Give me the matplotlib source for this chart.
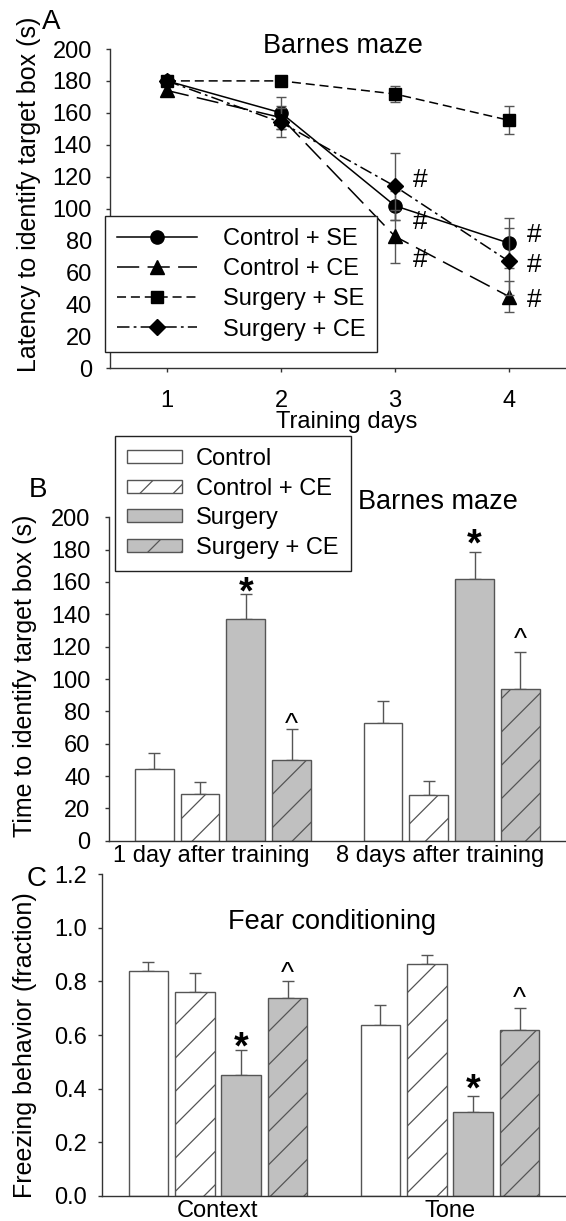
import matplotlib
matplotlib.use("Agg")
import matplotlib.pyplot as plt
import matplotlib.transforms as mtransforms
from matplotlib.patches import Patch
import numpy as np

plt.rcParams['font.family'] = ['Liberation Sans', 'DejaVu Sans']
plt.rcParams['font.size'] = 17
plt.rcParams['lines.scale_dashes'] = False
plt.rcParams['hatch.linewidth'] = 0.9

# ---- Panel A data: Barnes maze training ----
days = [1, 2, 3, 4]
ctrl_se = [180, 160, 101.7, 78.3]
ctrl_se_err = [1.5, 10, 9, 15.7]
ctrl_ce = [174, 157, 82.5, 44.8]
ctrl_ce_err = [3, 7, 16.4, 9.5]
surg_se = [180, 180, 171.8, 155.3]
surg_se_err = [0, 0, 5, 8.7]
surg_ce = [180, 154, 113.9, 66.8]
surg_ce_err = [1.5, 9, 21, 21]
# "#" marks (day, y)
hash_days = [3, 3, 3, 4, 4, 4]
hash_y = [117.9, 91.5, 67.7, 83.4, 64.6, 42.6]

# ---- Panel B data: Barnes maze memory ----
b_groups = ['1 day after training', '8 days after training']
b_control = [44.3, 73.0]
b_control_err = [9.7, 13.4]
b_control_ce = [29.1, 28.4]
b_control_ce_err = [7.4, 8.5]
b_surgery = [136.9, 162.0]
b_surgery_err = [15.6, 16.7]
b_surgery_ce = [49.9, 93.6]
b_surgery_ce_err = [19.0, 23.3]
b_star_y = [159.4, 189.0]
b_caret_y = [75.9, 128.4]

# ---- Panel C data: fear conditioning ----
c_groups = ['Context', 'Tone']
c_control = [0.839, 0.639]
c_control_err = [0.032, 0.072]
c_control_ce = [0.762, 0.864]
c_control_ce_err = [0.068, 0.034]
c_surgery = [0.451, 0.311]
c_surgery_err = [0.093, 0.062]
c_surgery_ce = [0.737, 0.620]
c_surgery_ce_err = [0.065, 0.082]
c_star_y = [0.589, 0.432]
c_caret_y = [0.854, 0.761]

W, H = 566, 1221
fig = plt.figure(figsize=(W / 100, H / 100), dpi=100)


def px_axes(left, top, bottom, right=W):
    return fig.add_axes([left / W, 1 - bottom / H, (right - left) / W, (bottom - top) / H])


def style(ax):
    for s in ['top', 'right']:
        ax.spines[s].set_visible(False)
    for s in ['left', 'bottom']:
        ax.spines[s].set_color('#333333')
        ax.spines[s].set_linewidth(1)
    ax.tick_params(direction='out', length=3, width=1, color='#333333')


edge = '#555555'
gray = '#c0c0c0'
ecol = '#555555'

# ================= Panel A =================
axA = px_axes(110, 49, 368)
style(axA)
series = [
    (ctrl_se, ctrl_se_err, 'o', '-', 9.5, 'Control + SE'),
    (ctrl_ce, ctrl_ce_err, '^', (0, (16, 6)), 9.5, 'Control + CE'),
    (surg_se, surg_se_err, 's', (0, (6.5, 3.5)), 8.5, 'Surgery + SE'),
    (surg_ce, surg_ce_err, 'D', (0, (9, 3, 2, 3)), 8, 'Surgery + CE'),
]
handles = []
for vals, errs, mk, ls, ms, lab in series:
    axA.errorbar(days, vals, yerr=errs, fmt='none', ecolor=ecol, elinewidth=1, capsize=3.5, capthick=1)
    ln, = axA.plot(days, vals, color='black', linestyle=ls, linewidth=1.1,
                   marker=mk, markersize=ms, markerfacecolor='black', markeredgecolor='black', label=lab)
    handles.append(ln)
for d, y in zip(hash_days, hash_y):
    axA.text(d + 0.22, y, '#', ha='center', va='center', fontsize=19)
axA.set_xlim(0.5, 4.5)
axA.set_ylim(0, 200)
axA.set_xticks(days)
axA.set_yticks(np.arange(0, 201, 20))
axA.tick_params(axis='x', pad=13)
axA.tick_params(axis='y', pad=10)
axA.set_xlabel('Training days', labelpad=0)
axA.xaxis.set_label_coords((347 - 110) / 456, -0.135)
axA.set_ylabel('Latency to identify target box (s)', fontsize=18)
axA.yaxis.set_label_coords(-0.151, 0.545)
legA = axA.legend(handles=handles, loc='upper left', bbox_to_anchor=(105 / W, 1 - 216 / H),
                  bbox_transform=fig.transFigure, numpoints=1, handlelength=3.4,
                  handletextpad=1.1, labelspacing=0.35, borderpad=0.5, fancybox=False,
                  framealpha=1, edgecolor='#222222', borderaxespad=0)
legA.get_frame().set_linewidth(1)

# ================= Bar panels =================
offsets = [-0.3, -0.1, 0.1, 0.3]
width = 0.17


def bars(ax, groups, series_list):
    x = np.arange(len(groups))
    for off, (vals, errs, fc, hatch) in zip(offsets, series_list):
        ax.bar(x + off, vals, width, color=fc, edgecolor=edge, linewidth=1, hatch=hatch, zorder=2)
        ax.errorbar(x + off, vals, yerr=[np.zeros(len(vals)), errs], fmt='none', ecolor=ecol,
                    elinewidth=1, capsize=4.5, capthick=1, zorder=1)
    ax.set_xticks(x)
    ax.set_xticklabels(groups)
    ax.tick_params(axis='x', length=0)
    ax.set_xlim(-0.5, 1.5)
    return x


def marks(ax, x, star_y, caret_y):
    for i in range(len(x)):
        ax.annotate('*', (x[i] + 0.1, star_y[i]), xytext=(0, -15), textcoords='offset points',
                    ha='center', va='baseline', fontsize=27, fontweight='bold')
        ax.annotate('^', (x[i] + 0.3, caret_y[i]), xytext=(0, -10), textcoords='offset points',
                    ha='center', va='baseline', fontsize=20)


# ================= Panel B =================
axB = px_axes(108.5, 517.3, 840.7)
style(axB)
xb = bars(axB, b_groups, [
    (b_control, b_control_err, 'white', None),
    (b_control_ce, b_control_ce_err, 'white', '/'),
    (b_surgery, b_surgery_err, gray, None),
    (b_surgery_ce, b_surgery_ce_err, gray, '/'),
])
axB.set_ylim(0, 200)
axB.set_yticks(np.arange(0, 201, 20))
axB.tick_params(axis='y', pad=10)
axB.tick_params(axis='x', pad=3)
shift = mtransforms.ScaledTranslation(-12 / 100, 0, fig.dpi_scale_trans)
for lbl in axB.get_xticklabels():
    lbl.set_transform(lbl.get_transform() + shift)
axB.set_ylabel('Time to identify target box (s)', fontsize=18)
axB.yaxis.set_label_coords(-0.156, 0.51)
marks(axB, xb, b_star_y, b_caret_y)
leg_handles = [
    Patch(facecolor='white', edgecolor=edge, label='Control'),
    Patch(facecolor='white', edgecolor=edge, hatch='/', label='Control + CE'),
    Patch(facecolor=gray, edgecolor=edge, label='Surgery'),
    Patch(facecolor=gray, edgecolor=edge, hatch='/', label='Surgery + CE'),
]
legB = axB.legend(handles=leg_handles, loc='upper left', bbox_to_anchor=(115 / W, 1 - 436 / H),
                  bbox_transform=fig.transFigure, handlelength=2.3, handleheight=0.47,
                  handletextpad=0.6, labelspacing=0.32, borderpad=0.52, fancybox=False,
                  framealpha=1, edgecolor='#222222', borderaxespad=0)
legB.get_frame().set_linewidth(1)

# ================= Panel C =================
axC = px_axes(102, 874.3, 1195.7)
style(axC)
xc = bars(axC, c_groups, [
    (c_control, c_control_err, 'white', None),
    (c_control_ce, c_control_ce_err, 'white', '/'),
    (c_surgery, c_surgery_err, gray, None),
    (c_surgery_ce, c_surgery_ce_err, gray, '/'),
])
axC.set_ylim(0, 1.2)
axC.set_yticks(np.arange(0, 1.21, 0.2))
axC.set_yticklabels([f'{v:.1f}' for v in np.arange(0, 1.21, 0.2)])
axC.tick_params(axis='y', pad=8)
axC.tick_params(axis='x', pad=3)
axC.set_ylabel('Freezing behavior (fraction)', fontsize=18)
axC.yaxis.set_label_coords(-0.140, 0.47)
marks(axC, xc, c_star_y, c_caret_y)

# ---- panel letters and titles ----
fig.text(51 / W, 1 - 22 / H, 'A', ha='center', va='center', fontsize=20)
fig.text(343 / W, 1 - 46 / H, 'Barnes maze', ha='center', va='center', fontsize=19.5)
fig.text(38 / W, 1 - 490 / H, 'B', ha='center', va='center', fontsize=20)
fig.text(438 / W, 1 - 502 / H, 'Barnes maze', ha='center', va='center', fontsize=19.5)
fig.text(37 / W, 1 - 879 / H, 'C', ha='center', va='center', fontsize=20)
fig.text(332 / W, 1 - 922 / H, 'Fear conditioning', ha='center', va='center', fontsize=19.5)

fig.savefig('out.png', dpi=100)
